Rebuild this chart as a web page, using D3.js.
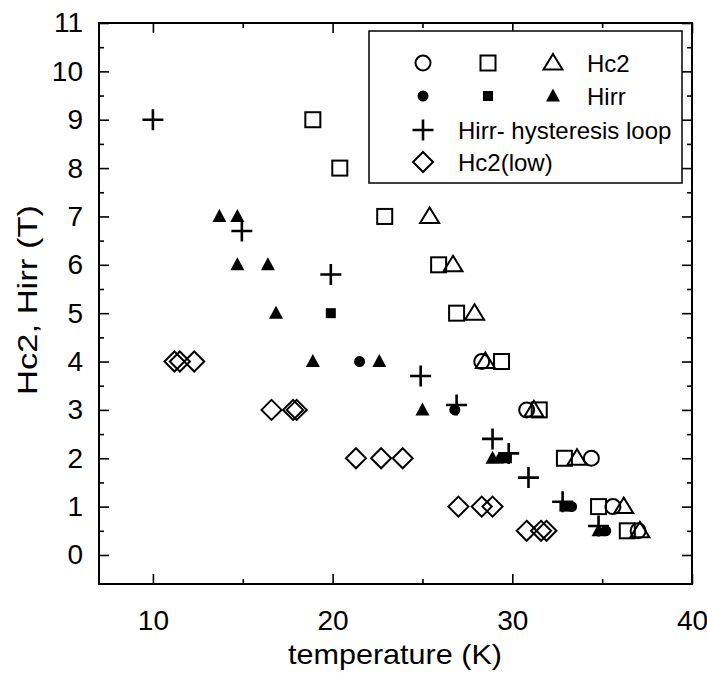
<!DOCTYPE html>
<html>
<head>
<meta charset="utf-8">
<script src="https://cdn.jsdelivr.net/npm/d3@7"></script>
<style>
  body { margin: 0; background: #fff; }
  text { font-family: "Liberation Sans", Arial, sans-serif; fill: #000; }
</style>
</head>
<body>
<div id="chart"></div>
<script>
// [temperature K, field T]
const hc2Circles   = [[28.3,4],[30.8,3],[34.4,2],[35.6,1],[37.0,0.5]];
const hc2Squares   = [[18.9,9],[20.4,8],[22.9,7],[25.9,6],[26.9,5],[29.4,4],[31.5,3],[32.9,2],[34.8,1],[36.4,0.5]];
const hc2Triangles = [[25.4,7],[26.7,6],[27.9,5],[28.5,4],[31.2,3],[33.6,2],[36.2,1],[37.1,0.5]];
const hirrCircles   = [[21.5,4],[26.8,3],[29.4,2],[33.3,1],[35.2,0.5]];
const hirrSquares   = [[19.9,5],[29.7,2],[32.9,1]];
const hirrTriangles = [[13.7,7],[14.7,7],[14.7,6],[16.4,6],[16.85,5],[18.9,4],[22.6,4],[25.0,3],[28.9,2],[34.8,0.5]];
const hirrLoop = [[10,9],[14.95,6.7],[19.9,5.8],[24.9,3.7],[26.9,3.1],[28.9,2.4],[29.8,2.1],[30.9,1.6],[32.8,1.1],[34.8,0.6]];
const hc2Low = [[11.2,4],[11.5,4],[12.3,4],[16.6,3],[17.8,3],[18.0,3],[21.3,2],[22.7,2],[23.9,2],
                [27.0,1],[28.3,1],[28.9,1],[30.8,0.5],[31.6,0.5],[31.9,0.5]];

const xMajor = [10, 20, 30, 40];
const xMinor = [15, 25, 35];
const yMajor = d3.range(0, 12);
const yMinor = d3.range(0.5, 11, 1);

const width = 707, height = 673;
const plot = { left: 99, right: 692, top: 23, bottom: 584 };

const svg = d3.select("#chart").append("svg")
  .attr("width", width).attr("height", height);

const x = d3.scaleLinear().domain([7, 40]).range([plot.left, plot.right]);
const y = d3.scaleLinear().domain([-0.6, 11]).range([plot.bottom, plot.top]);

function styleAxis(g) {
  g.select(".domain").remove();
  g.selectAll(".tick line").attr("stroke", "#000").attr("stroke-width", 1.6);
  g.selectAll(".tick text").style("font-size", "28px");
}

// bottom
svg.append("g").attr("transform", `translate(0,${plot.bottom})`)
  .call(d3.axisBottom(x).tickValues(xMajor).tickSizeInner(-10).tickSizeOuter(0).tickPadding(26))
  .call(styleAxis);
svg.append("g").attr("transform", `translate(0,${plot.bottom})`)
  .call(d3.axisBottom(x).tickValues(xMinor).tickSizeInner(-5).tickSizeOuter(0).tickFormat(""))
  .call(styleAxis);
// top
svg.append("g").attr("transform", `translate(0,${plot.top})`)
  .call(d3.axisTop(x).tickValues(xMajor).tickSizeInner(-10).tickSizeOuter(0).tickFormat(""))
  .call(styleAxis);
svg.append("g").attr("transform", `translate(0,${plot.top})`)
  .call(d3.axisTop(x).tickValues(xMinor).tickSizeInner(-5).tickSizeOuter(0).tickFormat(""))
  .call(styleAxis);
// left
svg.append("g").attr("transform", `translate(${plot.left},0)`)
  .call(d3.axisLeft(y).tickValues(yMajor).tickSizeInner(-10).tickSizeOuter(0).tickPadding(16))
  .call(styleAxis);
svg.append("g").attr("transform", `translate(${plot.left},0)`)
  .call(d3.axisLeft(y).tickValues(yMinor).tickSizeInner(-5).tickSizeOuter(0).tickFormat(""))
  .call(styleAxis);
// right
svg.append("g").attr("transform", `translate(${plot.right},0)`)
  .call(d3.axisRight(y).tickValues(yMajor).tickSizeInner(-10).tickSizeOuter(0).tickFormat(""))
  .call(styleAxis);
svg.append("g").attr("transform", `translate(${plot.right},0)`)
  .call(d3.axisRight(y).tickValues(yMinor).tickSizeInner(-5).tickSizeOuter(0).tickFormat(""))
  .call(styleAxis);

svg.append("rect")
  .attr("x", plot.left).attr("y", plot.top)
  .attr("width", plot.right - plot.left).attr("height", plot.bottom - plot.top)
  .attr("fill", "none").attr("stroke", "#000").attr("stroke-width", 2);

// axis titles
svg.append("text")
  .attr("x", 395).attr("y", 664)
  .attr("text-anchor", "middle").style("font-size", "28px")
  .attr("textLength", 214).attr("lengthAdjust", "spacingAndGlyphs")
  .text("temperature (K)");
svg.append("text")
  .attr("transform", `translate(37,300) rotate(-90)`)
  .attr("text-anchor", "middle").style("font-size", "28px")
  .attr("textLength", 190).attr("lengthAdjust", "spacingAndGlyphs")
  .text("Hc2, Hirr (T)");

// marker shapes
function marker(g, type, cx, cy) {
  let el;
  switch (type) {
    case "circle":
      el = g.append("circle").attr("cx", cx).attr("cy", cy).attr("r", 7.5);
      break;
    case "square":
      el = g.append("rect").attr("x", cx - 7.5).attr("y", cy - 7.5).attr("width", 15).attr("height", 15);
      break;
    case "triangle":
      el = g.append("path").attr("d", `M${cx},${cy - 9}L${cx + 9.5},${cy + 6.5}L${cx - 9.5},${cy + 6.5}Z`);
      break;
    case "diamond":
      el = g.append("path").attr("d", `M${cx},${cy - 10}L${cx + 10},${cy}L${cx},${cy + 10}L${cx - 10},${cy}Z`);
      break;
    case "plus":
      return g.append("path")
        .attr("d", `M${cx - 10.5},${cy}H${cx + 10.5}M${cx},${cy - 10.5}V${cy + 10.5}`)
        .attr("stroke", "#000").attr("stroke-width", 2.6).attr("fill", "none");
    case "fcircle":
      return g.append("circle").attr("cx", cx).attr("cy", cy).attr("r", 5.5).attr("fill", "#000");
    case "fsquare":
      return g.append("rect").attr("x", cx - 5).attr("y", cy - 5).attr("width", 10).attr("height", 10).attr("fill", "#000");
    case "ftriangle":
      return g.append("path").attr("d", `M${cx},${cy - 7.5}L${cx + 7},${cy + 5.5}L${cx - 7},${cy + 5.5}Z`).attr("fill", "#000");
  }
  el.attr("fill", "none").attr("stroke", "#000").attr("stroke-width", 2);
  return el;
}

const series = [
  { data: hc2Circles, type: "circle" },
  { data: hc2Squares, type: "square" },
  { data: hc2Triangles, type: "triangle" },
  { data: hirrCircles, type: "fcircle" },
  { data: hirrSquares, type: "fsquare" },
  { data: hirrTriangles, type: "ftriangle" },
  { data: hirrLoop, type: "plus" },
  { data: hc2Low, type: "diamond" }
];

const marks = svg.append("g");
series.forEach(s => {
  const g = marks.append("g");
  s.data.forEach(d => marker(g, s.type, x(d[0]), y(d[1])));
});

// legend
const lg = svg.append("g");
lg.append("rect").attr("x", 369).attr("y", 31).attr("width", 313).attr("height", 152)
  .attr("fill", "#fff").attr("stroke", "#000").attr("stroke-width", 1.5);
const rows = [63, 96, 130, 162];
marker(lg, "circle", 423, rows[0]);
marker(lg, "square", 488, rows[0]);
marker(lg, "triangle", 553, rows[0]);
marker(lg, "fcircle", 423, rows[1]);
marker(lg, "fsquare", 488, rows[1]);
marker(lg, "ftriangle", 553, rows[1]);
marker(lg, "plus", 423, rows[2]);
marker(lg, "diamond", 423, rows[3]);
const lgText = [
  { x: 587, y: rows[0], t: "Hc2" },
  { x: 587, y: rows[1], t: "Hirr" },
  { x: 458, y: rows[2], t: "Hirr- hysteresis loop" },
  { x: 458, y: rows[3], t: "Hc2(low)" }
];
lg.selectAll("text.lt").data(lgText).enter().append("text")
  .attr("class", "lt").attr("x", d => d.x).attr("y", d => d.y).attr("dy", "0.36em")
  .style("font-size", "24px").text(d => d.t);
</script>
</body>
</html>
